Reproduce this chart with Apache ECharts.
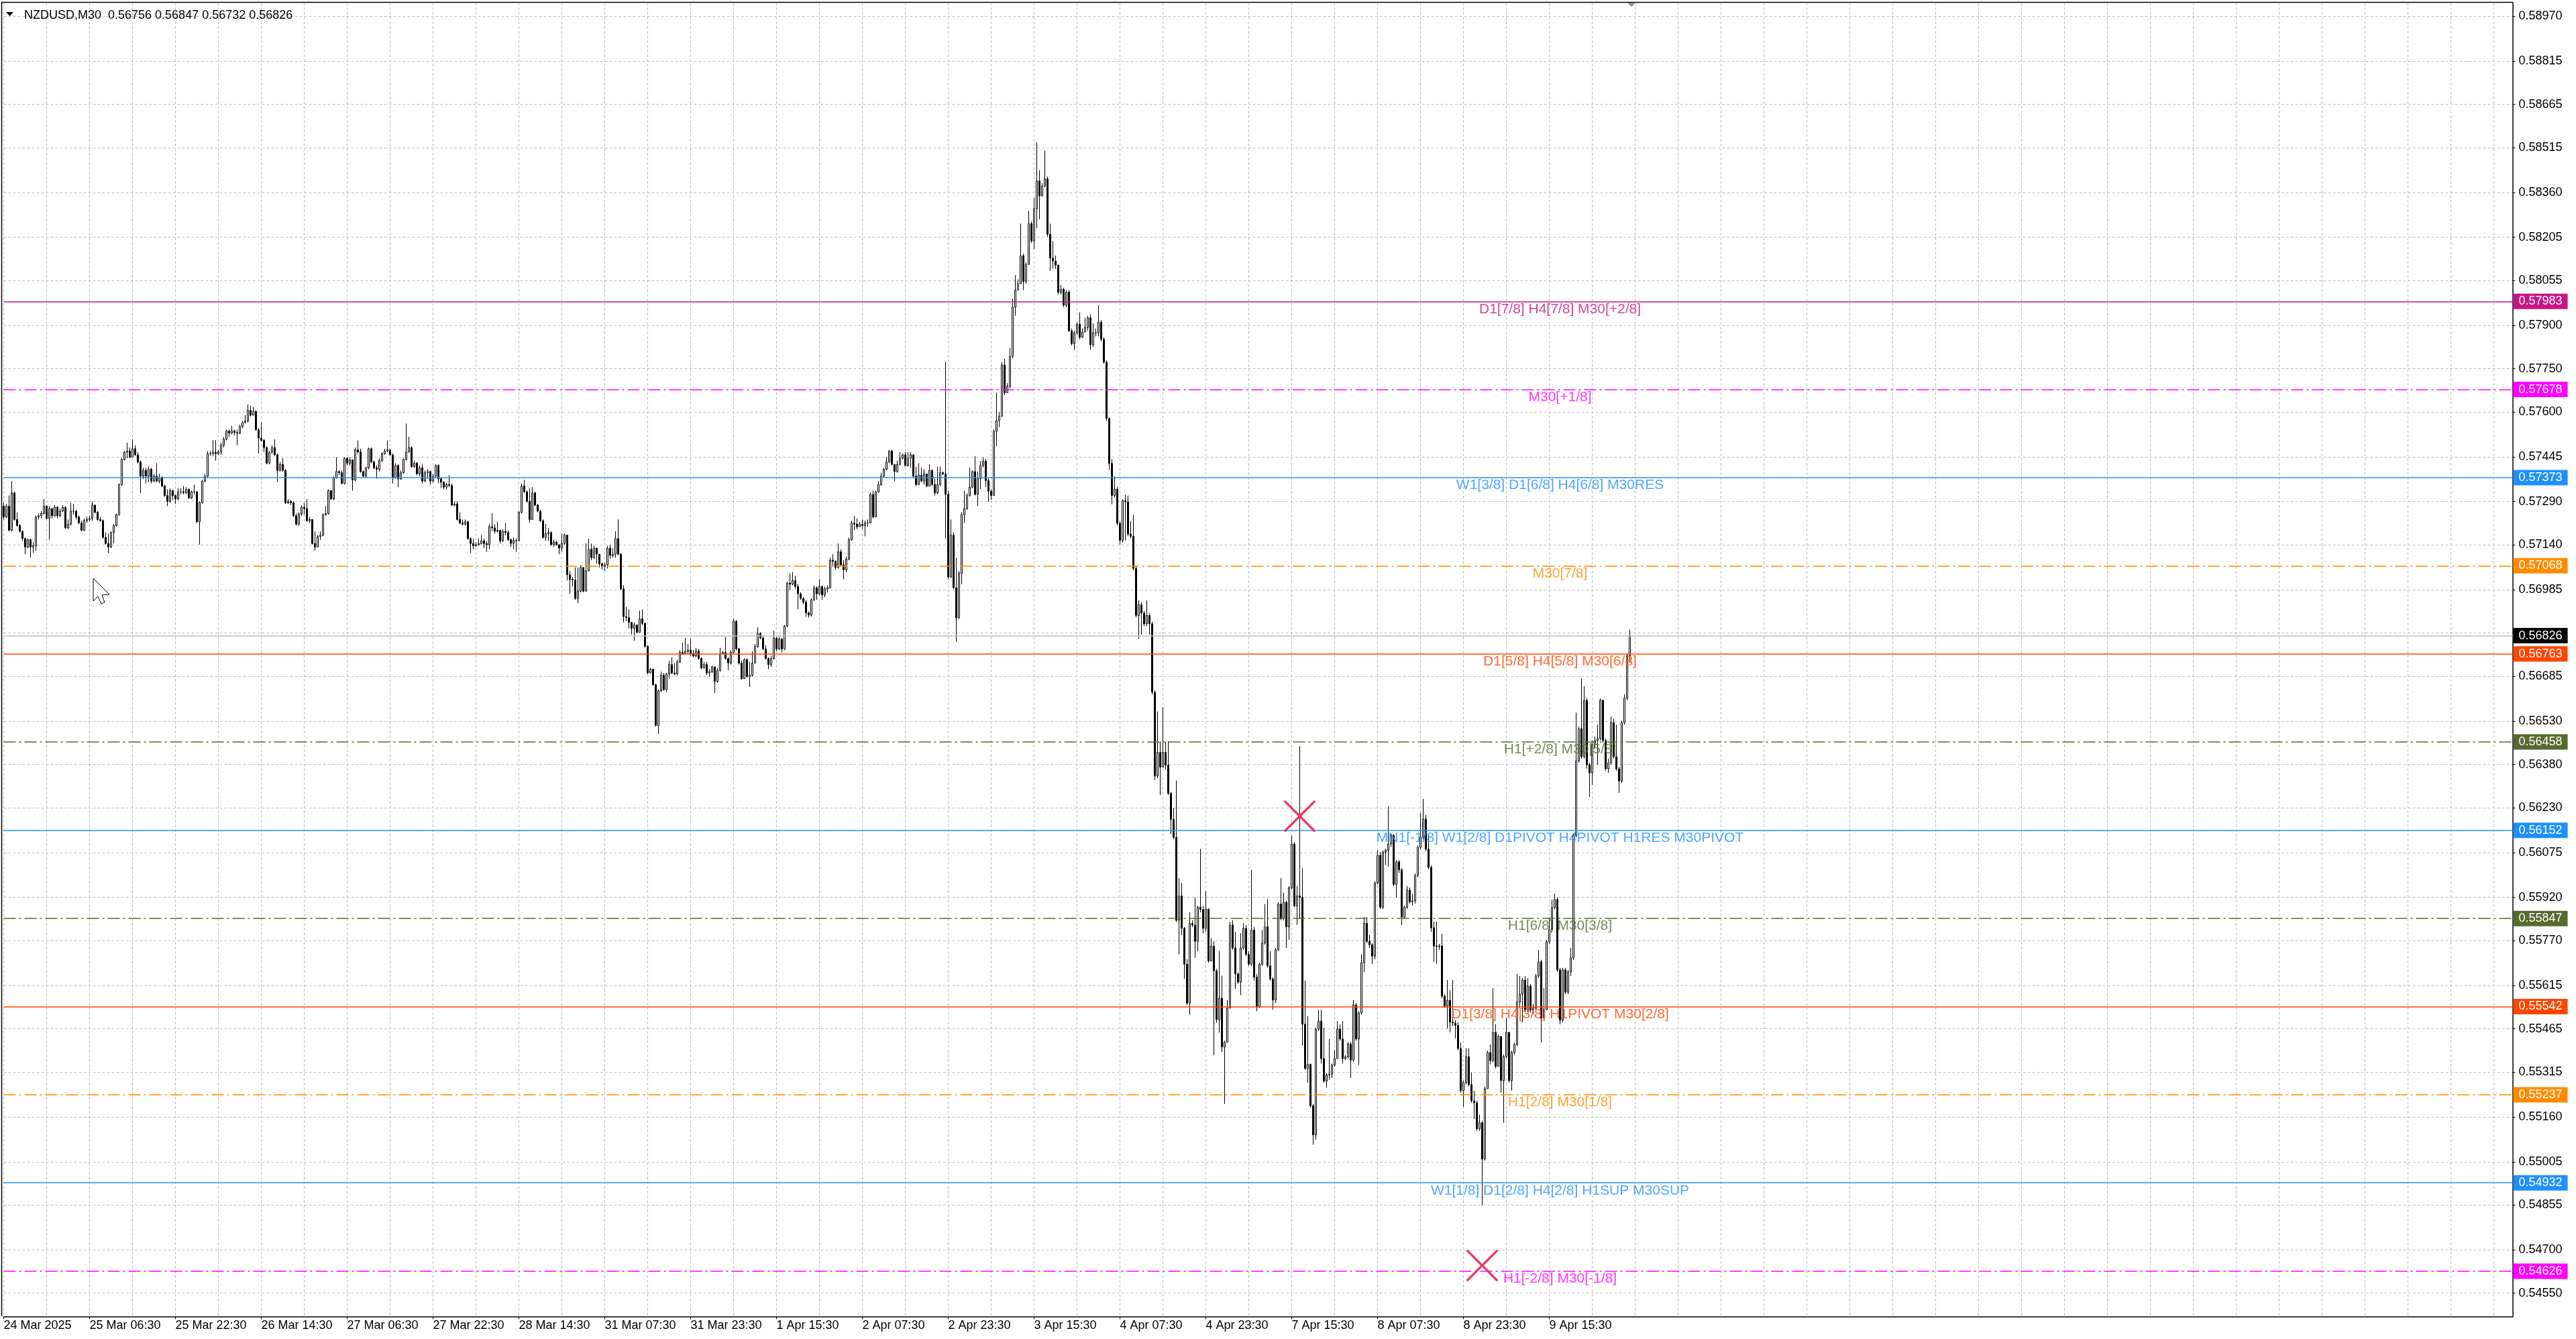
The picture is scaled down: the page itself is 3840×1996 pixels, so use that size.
<!DOCTYPE html>
<html>
<head>
<meta charset="utf-8">
<title>NZDUSD,M30</title>
<style>
  html, body { margin: 0; padding: 0; background: #fff; }
  #chart { width: 3840px; height: 1996px; }
</style>
</head>
<body>
<div id="chart"></div>
<script src="https://cdn.jsdelivr.net/npm/echarts@6/dist/echarts.min.js"></script>
<script>
// M30 bars, prices in 1e-5 units, open = previous close
var firstOpen = 57274;
var closes = [
57237,57274,57191,57320,57228,57207,57187,57162,57133,57158,57133,57137,57237,57241,57249,57274,
57232,57266,57241,57271,57241,57257,57270,57199,57212,57257,57257,57237,57216,57191,57224,57228,
57232,57278,57253,57228,57224,57166,57145,57133,57183,57207,57245,57349,57436,57461,57465,57444,
57473,57452,57427,57378,57398,57378,57402,57361,57378,57361,57373,57344,57311,57291,57328,57311,
57299,57324,57324,57321,57332,57303,57324,57324,57220,57286,57361,57378,57456,57456,57461,57456,
57462,57485,57506,57534,57527,57535,57529,57527,57550,57564,57568,57606,57589,57602,57539,57510,
57502,57477,57423,57461,57477,57452,57398,57419,57398,57286,57290,57286,57241,57212,57247,57271,
57266,57224,57228,57145,57133,57169,57174,57245,57249,57328,57299,57373,57394,57390,57353,57440,
57423,57434,57365,57469,57462,57394,57378,57407,57473,57427,57407,57402,57432,57456,57465,57469,
57452,57373,57415,57369,57390,57436,57461,57477,57411,57423,57386,57407,57361,57390,57394,57361,
57378,57415,57369,57357,57340,57349,57346,57278,57282,57228,57216,57212,57220,57162,57145,57137,
57141,57145,57154,57145,57141,57203,57199,57187,57191,57154,57187,57183,57158,57145,57155,57154,
57253,57344,57324,57291,57228,57320,57278,57257,57224,57166,57179,57183,57141,57150,57141,57129,
57145,57174,57037,57021,57019,56955,56980,57062,56980,57050,57125,57096,57129,57108,57075,57066,
57071,57129,57104,57108,57162,57108,56988,56892,56888,56872,56851,56863,56838,56884,56868,56789,
56697,56710,56656,56515,56635,56689,56639,56693,56726,56697,56693,56735,56768,56764,56772,56776,
56764,56756,56772,56747,56714,56726,56697,56701,56718,56668,56706,56764,56768,56747,56731,56768,
56876,56780,56731,56677,56743,56685,56689,56731,56789,56834,56818,56780,56747,56726,56747,56818,
56780,56814,56780,56859,57008,57004,57017,56996,56971,56955,56942,56905,56897,56950,56992,56971,
56996,56967,56988,56992,57087,57083,57062,57116,57071,57054,57091,57158,57216,57212,57203,57212,
57207,57216,57216,57315,57237,57324,57349,57378,57402,57427,57465,57419,57394,57419,57440,57452,
57415,57440,57452,57378,57349,57382,57361,57386,57344,57398,57349,57320,57349,57390,57386,57315,
57029,57174,56992,56888,57042,57245,57266,57311,57340,57394,57315,57369,57415,57430,57363,57326,
57311,57533,57570,57585,57763,57667,57689,57793,57963,58022,58044,58141,58052,58111,58252,58192,
58304,58400,58348,58382,58407,58215,58133,58123,58108,58015,58025,57970,58015,57881,57837,57874,
57904,57859,57877,57893,57926,57833,57874,57874,57911,57852,57773,57578,57422,57311,57333,57215,
57156,57293,57289,57178,57170,57059,56896,56933,56904,56867,56896,56867,56630,56341,56422,56371,
56422,56378,56280,56190,56128,55841,55925,55813,55689,55554,55830,55824,55768,55886,55878,55813,
55880,55700,55751,55666,55497,55571,55402,55419,55537,55824,55745,55655,55627,55745,55813,55723,
55689,55807,55644,55542,55689,55762,55818,55683,55638,55565,55739,55897,55846,55903,55818,55953,
56105,55891,55925,55920,55481,55328,55342,55199,55098,55464,55492,55362,55284,55306,55308,55340,
55362,55464,55430,55362,55368,55413,55357,55548,55430,55520,55694,55830,55768,55756,55717,55970,
56066,55886,56077,56083,56105,56134,55965,56043,56015,55852,55886,55945,55905,55908,55996,56093,
56128,56191,56087,56024,55815,55752,55750,55752,55578,55544,55564,55488,55485,55477,55397,55251,
55279,55369,55272,55216,55209,55119,55140,55014,55258,55383,55355,55453,55335,55439,55286,55369,
55453,55286,55383,55411,55558,55585,55634,55530,55613,55530,55537,55648,55697,55502,55532,55766,
55808,55885,55913,55669,55495,55669,55592,55662,55711,56135,56393,56504,56407,56602,56379,56351,
56449,56463,56470,56602,56463,56365,56386,56525,56407,56365,56323,56525,56609,56756,56826
];
var highs = [
57286,57282,57311,57361,57324,57253,57212,57191,57166,57162,57162,57150,57241,57249,57257,57299,
57278,57274,57257,57278,57274,57266,57278,57274,57228,57286,57282,57261,57241,57224,57232,57237,
57241,57291,57278,57257,57237,57228,57183,57179,57187,57212,57249,57353,57440,57465,57494,57477,
57506,57485,57461,57432,57407,57407,57411,57407,57386,57423,57386,57378,57349,57332,57336,57332,
57315,57336,57336,57344,57340,57336,57328,57349,57324,57291,57365,57386,57465,57465,57502,57502,
57469,57494,57514,57539,57539,57552,57539,57539,57556,57568,57589,57626,57622,57618,57606,57544,
57564,57506,57481,57465,57485,57506,57456,57427,57440,57402,57299,57295,57291,57249,57253,57278,
57286,57299,57237,57228,57187,57174,57187,57249,57274,57332,57328,57378,57444,57398,57398,57444,
57444,57444,57436,57477,57502,57473,57398,57411,57477,57477,57432,57415,57440,57461,57473,57502,
57473,57456,57423,57419,57398,57440,57560,57514,57481,57432,57427,57415,57419,57398,57402,57398,
57386,57419,57419,57373,57361,57353,57382,57353,57291,57291,57253,57228,57228,57224,57166,57162,
57150,57162,57174,57162,57154,57212,57249,57212,57220,57191,57195,57216,57191,57162,57166,57162,
57257,57353,57365,57328,57336,57340,57324,57282,57261,57228,57212,57199,57187,57158,57154,57137,
57179,57179,57174,57050,57029,57062,57062,57071,57054,57145,57162,57145,57137,57125,57108,57079,
57079,57137,57141,57129,57187,57228,57112,57000,56926,56917,56863,56872,56859,56913,56917,56872,
56793,56714,56710,56660,56639,56701,56697,56697,56739,56751,56731,56743,56776,56801,56818,56797,
56814,56776,56784,56780,56751,56735,56735,56710,56722,56697,56714,56784,56772,56822,56751,56776,
56884,56880,56784,56739,56747,56747,56735,56772,56797,56855,56838,56826,56793,56751,56756,56843,
56822,56822,56818,56863,57013,57041,57046,57033,57004,56976,56959,56950,56909,56955,57000,56996,
57021,57000,56996,57000,57096,57108,57087,57145,57125,57087,57100,57166,57224,57241,57232,57220,
57228,57224,57228,57320,57328,57328,57361,57390,57407,57444,57469,57469,57411,57432,57461,57456,
57461,57461,57461,57444,57411,57423,57407,57402,57386,57419,57402,57369,57411,57411,57394,57774,
57328,57228,57183,57096,57050,57253,57328,57320,57407,57398,57448,57394,57430,57444,57437,57370,
57333,57541,57667,57600,57773,57785,57700,57822,57992,58074,58059,58252,58148,58118,58296,58259,
58341,58533,58437,58392,58504,58415,58252,58192,58141,58111,58040,58030,58022,58022,57889,57881,
57911,57945,57889,57926,57933,57938,57907,57889,57970,57918,57859,57778,57581,57437,57378,57341,
57222,57299,57314,57311,57222,57245,57067,56948,56941,56911,56948,56904,56874,56637,56563,56459,
56578,56459,56460,56285,56229,56325,55987,55970,55818,55706,55869,55841,55920,55891,56088,55891,
55942,55880,55779,55768,55672,55734,55649,55424,55565,55835,55841,55801,55661,55796,55830,55824,
55734,56015,55818,55655,55694,55807,55897,55914,55734,55644,55745,55903,55987,55936,55908,55959,
56134,56111,55959,56443,56021,55632,55509,55345,55205,55469,55531,55531,55469,55312,55430,55345,
55391,55492,55481,55492,55374,55419,55419,55565,55554,55526,55723,55852,55852,55790,55762,55976,
56083,56077,56083,56088,56235,56139,56139,56049,56049,56021,55891,55959,55954,55933,56003,56100,
56212,56261,56205,56135,56031,55836,55836,55759,55794,55585,55634,55599,55634,55495,55488,55418,
55286,55397,55397,55314,55251,55216,55168,55147,55265,55390,55411,55606,55481,55446,55439,55376,
55502,55453,55390,55418,55655,55648,55641,55648,55641,55620,55551,55655,55738,55704,55606,55773,
55850,55913,55933,55920,55676,55676,55676,55669,55745,56142,56560,56511,56678,56651,56609,56386,
56463,56477,56518,56609,56605,56470,56400,56546,56539,56518,56372,56532,56623,56762,56847
];
var lows = [
57228,57232,57187,57187,57224,57203,57183,57154,57108,57129,57096,57112,57120,57228,57232,57245,
57228,57158,57232,57237,57232,57237,57253,57195,57195,57207,57245,57228,57212,57187,57187,57216,
57220,57224,57249,57224,57220,57162,57141,57112,57129,57145,57203,57241,57344,57432,57440,57440,
57444,57448,57423,57320,57369,57353,57357,57353,57357,57357,57353,57340,57307,57274,57286,57295,
57282,57295,57315,57315,57315,57299,57299,57315,57216,57141,57282,57357,57373,57448,57448,57432,
57452,57452,57477,57502,57514,57523,57519,57485,57523,57544,57560,57564,57585,57589,57535,57456,
57498,57461,57419,57419,57456,57448,57357,57394,57394,57282,57282,57278,57237,57207,57207,57241,
57245,57220,57216,57141,57120,57133,57158,57170,57241,57245,57295,57295,57369,57382,57349,57349,
57415,57415,57328,57361,57456,57390,57373,57373,57402,57423,57402,57369,57394,57427,57452,57461,
57448,57353,57369,57340,57365,57386,57432,57461,57407,57407,57382,57378,57353,57357,57369,57349,
57357,57373,57353,57336,57332,57332,57340,57274,57274,57224,57212,57207,57207,57158,57112,57125,
57133,57137,57141,57129,57116,57125,57187,57179,57183,57145,57150,57174,57154,57133,57125,57116,
57154,57249,57320,57286,57216,57228,57274,57253,57220,57162,57154,57154,57137,57133,57137,57108,
57116,57141,57017,56971,56996,56950,56938,56976,56976,57046,57050,57087,57091,57075,57062,57054,
57050,57058,57091,57096,57096,57104,56984,56872,56876,56851,56830,56809,56834,56872,56863,56785,
56693,56697,56652,56511,56486,56631,56635,56631,56677,56693,56689,56689,56731,56760,56764,56764,
56756,56751,56751,56743,56710,56718,56689,56685,56697,56627,56664,56701,56760,56743,56706,56726,
56764,56776,56726,56673,56677,56681,56648,56685,56731,56784,56814,56776,56743,56710,56718,56743,
56772,56776,56768,56776,56855,56984,57000,56988,56917,56950,56934,56892,56888,56892,56946,56950,
56967,56950,56959,56975,56988,57066,57054,57058,57066,57021,57046,57087,57154,57191,57195,57203,
57195,57170,57203,57220,57232,57237,57320,57344,57373,57398,57423,57415,57361,57390,57415,57436,
57411,57411,57407,57373,57344,57349,57357,57349,57340,57344,57344,57311,57315,57344,57382,57162,
57021,57025,56988,56805,56884,57004,57216,57261,57307,57336,57311,57274,57333,57408,57341,57289,
57296,57311,57482,57548,57585,57659,57667,57682,57785,57933,58022,58044,58022,58044,58111,58185,
58163,58237,58267,58370,58378,58207,58089,58096,58096,58007,58007,57963,57963,57877,57830,57815,
57867,57852,57856,57881,57881,57815,57826,57862,57862,57844,57767,57570,57400,57281,57304,57207,
57141,57148,57156,57170,57163,57052,56889,56815,56830,56859,56859,56830,56622,56326,56333,56274,
56378,56363,56274,56139,56122,55835,55723,55790,55638,55548,55514,55818,55711,55734,55869,55796,
55801,55694,55700,55374,55486,55452,55385,55205,55419,55537,55739,55604,55621,55582,55739,55717,
55683,55683,55632,55526,55537,55683,55756,55677,55632,55531,55554,55734,55841,55841,55745,55773,
55948,55886,55824,55846,55407,55323,55278,55193,55064,55081,55458,55345,55278,55261,55289,55295,
55334,55362,55424,55345,55357,55362,55295,55351,55424,55340,55514,55661,55762,55745,55689,55706,
55965,55880,55880,56032,56027,56094,55959,55920,56004,55824,55846,55880,55899,55892,55899,55989,
56087,56121,56080,56017,55801,55697,55690,55738,55571,55537,55467,55453,55474,55432,55390,55244,
55195,55272,55265,55209,55154,55112,55112,54854,55009,55258,55342,55349,55328,55335,55244,55140,
55362,55279,55251,55376,55404,55537,55488,55523,55523,55523,55516,55530,55641,55418,55523,55530,
55759,55801,55878,55662,55481,55488,55585,55585,55648,55704,56128,56386,56400,56400,56365,56268,
56309,56435,56379,56463,56456,56358,56351,56379,56400,56358,56282,56316,56518,56602,56732
];

var tickLabels = ['24 Mar 2025', '25 Mar 06:30', '25 Mar 22:30', '26 Mar 14:30', '27 Mar 06:30',
  '27 Mar 22:30', '28 Mar 14:30', '31 Mar 07:30', '31 Mar 23:30', '1 Apr 15:30', '2 Apr 07:30',
  '2 Apr 23:30', '3 Apr 15:30', '4 Apr 07:30', '4 Apr 23:30', '7 Apr 15:30', '8 Apr 07:30',
  '8 Apr 23:30', '9 Apr 15:30'];
var priceTicks = [0.58970, 0.58815, 0.58665, 0.58515, 0.58360, 0.58205, 0.58055, 0.57900, 0.57750,
  0.57600, 0.57445, 0.57290, 0.57140, 0.56985, 0.56835, 0.56685, 0.56530, 0.56380, 0.56230, 0.56075,
  0.55920, 0.55770, 0.55615, 0.55465, 0.55315, 0.55160, 0.55005, 0.54855, 0.54700, 0.54550];

// murrey levels
var levelValues = [0.57983, 0.57678, 0.57373, 0.57068, 0.56763, 0.56458, 0.56152, 0.55847,
  0.55542, 0.55237, 0.54932, 0.54626];
var levelNames = ['D1[7/8] H4[7/8] M30[+2/8]', 'M30[+1/8]', 'W1[3/8] D1[6/8] H4[6/8] M30RES',
  'M30[7/8]', 'D1[5/8] H4[5/8] M30[6/8]', 'H1[+2/8] M30[5/8]',
  'MN1[-1/8] W1[2/8] D1PIVOT H4PIVOT H1RES M30PIVOT', 'H1[6/8] M30[3/8]',
  'D1[3/8] H4[3/8] H1PIVOT M30[2/8]', 'H1[2/8] M30[1/8]', 'W1[1/8] D1[2/8] H4[2/8] H1SUP M30SUP',
  'H1[-2/8] M30[-1/8]'];
var lastPrice = 0.56826;
var crossMarks = [[483, 0.56201], [551, 0.54646]];

// ---- styles ----
var font = '"Liberation Sans", Arial, sans-serif';
var dashDot = [18, 5, 3, 5];
var levelStyles = [
  { c: '#C71585', t: 'solid' }, { c: '#FF00FF', t: dashDot }, { c: '#1E90FF', t: 'solid' },
  { c: '#FF8C00', t: dashDot }, { c: '#FF4500', t: 'solid' }, { c: '#556B2F', t: dashDot },
  { c: '#1E90FF', t: 'solid' }, { c: '#556B2F', t: dashDot }, { c: '#FF4500', t: 'solid' },
  { c: '#FF8C00', t: dashDot }, { c: '#1E90FF', t: 'solid' }, { c: '#FF00FF', t: dashDot }
];
var textBar = 580;
var slots = 936;

var cats = [];
for (var i = 0; i < slots; i++) cats.push(i);

var candles = [];
var prev = firstOpen;
for (var i = 0; i < closes.length; i++) {
  var o = prev, c = closes[i];
  var h = Math.max(highs[i] || c, o, c);
  var l = Math.min(lows[i] || c, o, c);
  candles.push([o / 1e5, c / 1e5, l / 1e5, h / 1e5]);
  prev = c;
}

function tagLabel(v, bg) {
  return {
    show: true, position: 'end', distance: 1,
    formatter: v.toFixed(5),
    backgroundColor: bg, color: '#fff',
    padding: [3, 8, 2, 8],
    fontSize: 18, fontFamily: font
  };
}

var lines = levelValues.map(function (v, k) {
  return {
    yAxis: v,
    lineStyle: { color: levelStyles[k].c, type: levelStyles[k].t, width: 1.5 },
    label: tagLabel(v, levelStyles[k].c)
  };
});
lines.push({
  yAxis: lastPrice,
  lineStyle: { color: '#C0C0C0', type: 'solid', width: 1.5 },
  label: tagLabel(lastPrice, '#000')
});

var labelEvery = function (i) { return i % 32 === 0 && i / 32 < tickLabels.length; };

var myChart = echarts.init(document.getElementById('chart'));
myChart.setOption({
  animation: false,
  backgroundColor: '#fff',
  title: {
    text: 'NZDUSD,M30  0.56756 0.56847 0.56732 0.56826',
    left: 31, top: 9,
    textStyle: { fontSize: 18, fontWeight: 'normal', fontFamily: font, color: '#000' }
  },
  grid: { left: 5.5, right: 94.5, top: 4, bottom: 33.5 },
  xAxis: {
    type: 'category', data: cats, boundaryGap: false,
    axisLine: { lineStyle: { color: '#000', width: 1.5 } },
    axisTick: { interval: labelEvery, length: 4, lineStyle: { color: '#000' } },
    axisLabel: {
      interval: labelEvery, align: 'left', margin: 5,
      formatter: function (v, idx) { return tickLabels[idx / 32] || ''; },
      fontSize: 18, fontFamily: font, color: '#000'
    },
    splitLine: {
      show: true, interval: function (i) { return i % 16 === 0; },
      lineStyle: { color: '#BEBEBE', type: [4, 3], width: 1 }
    }
  },
  yAxis: {
    type: 'value', position: 'right', min: 0.544693, max: 0.590169,
    axisLine: { show: true, lineStyle: { color: '#000', width: 1.5 } },
    axisTick: { show: true, length: 4, customValues: priceTicks, lineStyle: { color: '#000' } },
    axisLabel: {
      customValues: priceTicks, margin: 9,
      formatter: function (v) { return v.toFixed(5); },
      fontSize: 18, fontFamily: font, color: '#000'
    },
    splitLine: { show: true, lineStyle: { color: '#BEBEBE', type: [4, 3], width: 1 } }
  },
  series: [
    {
      type: 'candlestick', data: candles, barWidth: 2, large: false, clip: false,
      itemStyle: {
        color: '#ffffff', color0: '#000000',
        borderColor: '#000000', borderColor0: '#000000', borderWidth: 1
      },
      markLine: { silent: true, precision: 5, symbol: ['none', 'none'], animation: false, data: lines }
    },
    {
      type: 'scatter', symbolSize: 0, silent: true, z: 4,
      data: levelValues.map(function (v, k) {
        return { value: [textBar, v], name: levelNames[k], label: { color: levelStyles[k].c } };
      }),
      label: { show: true, position: 'bottom', distance: 1, formatter: '{b}', fontSize: 21, fontFamily: font }
    },
    {
      type: 'scatter', data: crossMarks, silent: true, z: 5,
      symbol: 'path://M0,1L1,0L10,9L19,0L20,1L11,10L20,19L19,20L10,11L1,20L0,19L9,10Z',
      symbolSize: 48,
      itemStyle: { color: '#E6325F', opacity: 0.95 }
    }
  ],
  graphic: [
    { type: 'line', shape: { x1: 2.5, y1: 3, x2: 2.5, y2: 1962 }, style: { stroke: '#000', lineWidth: 1.5 } },
    { type: 'line', shape: { x1: 2, y1: 3.5, x2: 3746, y2: 3.5 }, style: { stroke: '#000', lineWidth: 1.5 } },
    { type: 'polygon', shape: { points: [[9, 18], [20, 18], [14.5, 24]] }, style: { fill: '#000' } },
    { type: 'polygon', shape: { points: [[2426, 4], [2438, 4], [2432, 10]] }, style: { fill: '#8c8c8c' } },
    {
      type: 'polygon', z: 10,
      shape: { points: [[139, 862], [139, 896], [146, 889], [151, 900], [156, 898], [152, 887], [163, 886]] },
      style: { fill: '#fff', stroke: '#000', lineWidth: 1 }
    }
  ]
});
</script>
</body>
</html>
